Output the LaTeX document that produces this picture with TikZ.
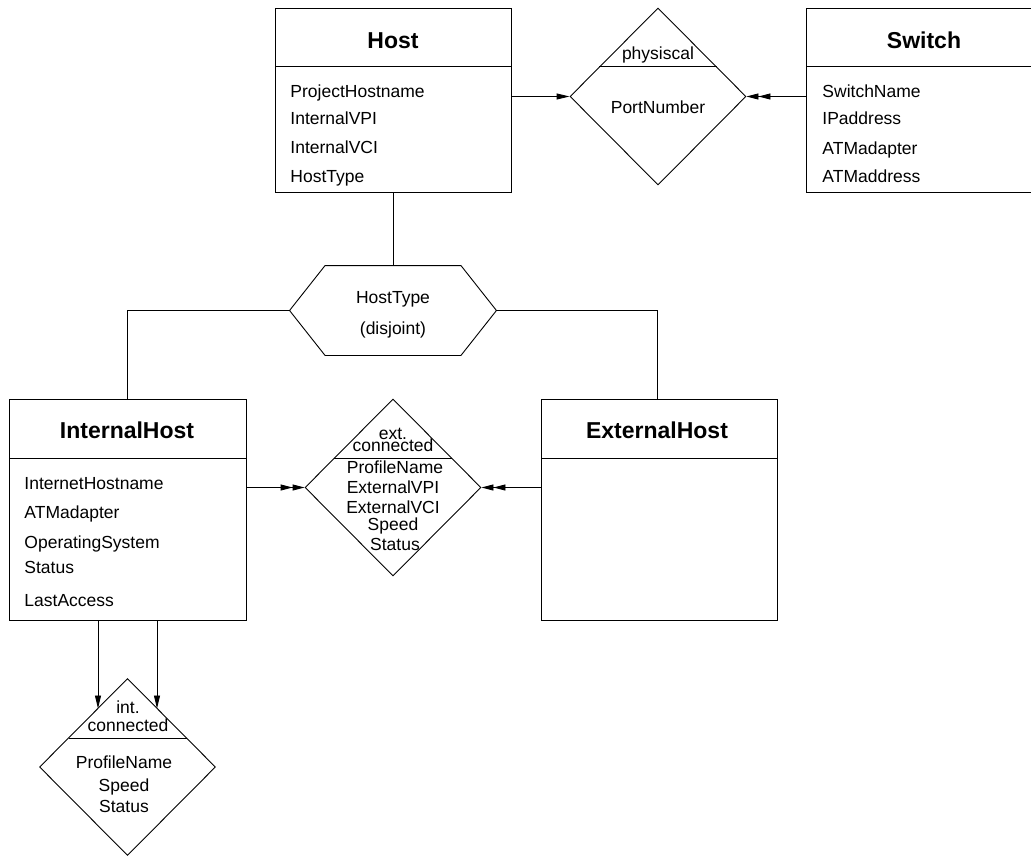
\documentclass[tikz,border=0pt]{standalone}
\usepackage{fontspec}
\setmainfont{Liberation Sans}
\usetikzlibrary{shapes.geometric,arrows.meta}

\begin{document}
\begin{tikzpicture}[x=1pt,y=-1pt,
  line width=0.9pt,
  entity/.style={draw, rectangle, inner sep=0pt, anchor=north west},
  rel/.style={draw, diamond, inner sep=0pt, minimum width=176pt, minimum height=177pt},
  title/.style={inner sep=0pt, font=\fontsize{23}{27}\selectfont\bfseries, text height=16.5pt, text depth=0pt},
  attr/.style={inner sep=0pt, font=\fontsize{17.5}{21}\selectfont, text height=12.6pt, text depth=0pt, anchor=west},
  rtext/.style={inner sep=0pt, font=\fontsize{17.5}{21}\selectfont, text height=12.6pt, text depth=0pt},
  one/.style={-{Triangle[length=13pt,width=6pt]}},
  two/.style={-{Triangle[length=12pt,width=6pt] Triangle[length=12pt,width=6pt]}},
]
\useasboundingbox (0,0) rectangle (1031,856);
\clip (0,0) rectangle (1031,856);

% ---------- entities ----------
\node[entity, minimum width=236pt, minimum height=184pt] (host) at (275,8) {};
\draw ([yshift=-58.7pt]host.north west) -- ([yshift=-58.7pt]host.north east);
\node[title] (hostT) at (393,40) {Host};
\node[attr] (h1) at (290,91) {ProjectHostname};
\node[attr] (h2) at (290,118) {InternalVPI};
\node[attr] (h3) at (290,147) {InternalVCI};
\node[attr] (h4) at (290,176) {HostType};

\node[entity, minimum width=240pt, minimum height=184pt] (switch) at (806,8) {};
\draw ([yshift=-58.7pt]switch.north west) -- ([yshift=-58.7pt]switch.north east);
\node[title] (switchT) at (924,40) {Switch};
\node[attr] (s1) at (822,91) {SwitchName};
\node[attr] (s2) at (822,118) {IPaddress};
\node[attr] (s3) at (822,148) {ATMadapter};
\node[attr] (s4) at (822,176) {ATMaddress};

\node[entity, minimum width=237pt, minimum height=221pt] (ih) at (9,399) {};
\draw ([yshift=-59pt]ih.north west) -- ([yshift=-59pt]ih.north east);
\node[title] (ihT) at (127,430) {InternalHost};
\node[attr] (i1) at (24,483) {InternetHostname};
\node[attr] (i2) at (24,512) {ATMadapter};
\node[attr] (i3) at (24,542) {OperatingSystem};
\node[attr] (i4) at (24,567) {Status};
\node[attr] (i5) at (24,600) {LastAccess};

\node[entity, minimum width=236pt, minimum height=221pt] (eh) at (541,399) {};
\draw ([yshift=-59pt]eh.north west) -- ([yshift=-59pt]eh.north east);
\node[title] (ehT) at (657,430) {ExternalHost};

% ---------- relationships ----------
\node[rel] (phys) at (658,96.5) {};
\draw (599,66.7) -- (717,66.7);
\node[rtext] (physA) at (658,53) {physiscal};
\node[rtext] (physB) at (658,107) {PortNumber};

\node[rel] (ext) at (393,487.5) {};
\draw (334,458) -- (452,458);
\node[rtext] (extA) at (393,433) {ext.};
\node[rtext] (extB) at (393,445) {connected};
\node[rtext] (extC) at (395,467) {ProfileName};
\node[rtext] (extD) at (393,487) {ExternalVPI};
\node[rtext] (extE) at (393,507) {ExternalVCI};
\node[rtext] (extF) at (393,524) {Speed};
\node[rtext] (extG) at (395,544) {Status};

\node[rel] (int) at (127.5,767) {};
\draw (69,738) -- (187,738);
\node[rtext] (intA) at (128,707) {int.};
\node[rtext] (intB) at (128,725) {connected};
\node[rtext] (intC) at (124,762) {ProfileName};
\node[rtext] (intD) at (124,785) {Speed};
\node[rtext] (intE) at (124,806) {Status};

% ---------- specialisation (hexagon) ----------
\node[inner sep=0pt, minimum width=206pt, minimum height=89pt] (ht) at (393,310.5) {};
\draw (ht.west) -- ([xshift=35.5pt]ht.north west) -- ([xshift=-35.5pt]ht.north east)
  -- (ht.east) -- ([xshift=-35.5pt]ht.south east) -- ([xshift=35.5pt]ht.south west) -- cycle;
\node[rtext] (htA) at (393,297) {HostType};
\node[rtext] (htB) at (393,328) {(disjoint)};

% ---------- connectors ----------
\coordinate (ihA) at (98,620);
\coordinate (ihB) at (157,620);
\coordinate (intL) at (98,708.5);
\coordinate (intR) at (157,708.5);

\draw[one] (host.east|-phys.west) -- (phys.west);
\draw[two] (switch.west|-phys.east) -- (phys.east);
\draw (host.south-|ht.north) -- (ht.north);
\draw (ht.west) -| (ih.north-|ihT);
\draw (ht.east) -| (eh.north-|ehT);
\draw[two] (ih.east|-ext.west) -- (ext.west);
\draw[two] (eh.west|-ext.east) -- (ext.east);
\draw[one] (ihA) -- (intL);
\draw[one] (ihB) -- (intR);
\end{tikzpicture}
\end{document}
